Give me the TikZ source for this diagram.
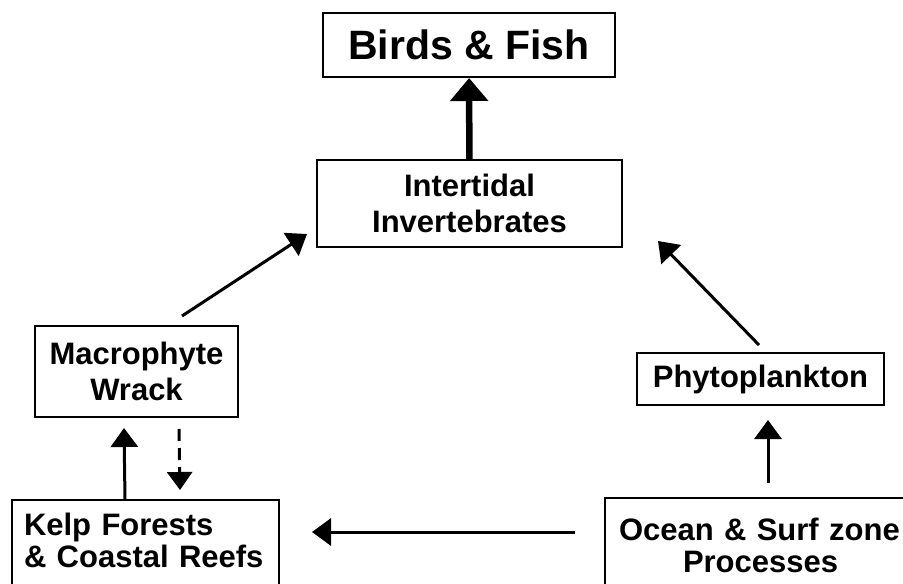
\documentclass[tikz,border=0pt]{standalone}
\usepackage{fontspec}
\setmainfont{Liberation Sans}
\usepackage{tikz}
\usetikzlibrary{arrows.meta, calc}

\begin{document}
\begin{tikzpicture}[x=1pt, y=-1pt,
    box/.style={draw=black, line width=2pt, inner sep=0pt, font=\bfseries\fontsize{31}{36}\selectfont, align=center},
    sidebox/.style={draw=black, line width=2pt, anchor=north west, inner ysep=13pt, text depth=80pt, font=\bfseries\fontsize{31}{32}\selectfont, align=left},
    arr/.style={line width=3pt, -{Triangle[width=27pt, length=19pt]}},
    bigarr/.style={line width=6.5pt, -{Triangle[width=37pt, length=23pt]}},
    dasharr/.style={line width=3pt, dash pattern=on 12pt off 7pt, -{Triangle[width=25pt, length=18pt]}}]
  \path[use as bounding box, clip] (0,0) rectangle (903,584);

  % ----- Boxes -----
  \node[box, minimum width=292pt, minimum height=64pt, font=\bfseries\fontsize{41}{46}\selectfont] (birds) at (469,45) {Birds \& Fish};
  \node[box, minimum width=305pt, minimum height=87pt] (inter) at (469.5,203.5) {Intertidal\\Invertebrates};
  \node[box, minimum width=203pt, minimum height=91pt] (macro) at (136.5,371.5) {Macrophyte\\Wrack};
  \node[box, minimum width=247pt, minimum height=52pt] (phyto) at (760.5,379) {Phytoplankton};
  \node[sidebox, inner xsep=12pt, text width=243pt] (kelp) at (11,499) {Kelp Forests\\\& Coastal Reefs};
  \node[sidebox, inner xsep=14pt, inner ysep=20pt, text width=292pt] (ocean) at (604,497) {Ocean \& Surf zone\\\hspace*{64pt}Processes};

  % ----- Arrows -----
  \draw[bigarr] (inter) -- (birds);
  \draw[arr] ($(macro.north)+(45.5,-9)$) -- ($(inter.south west)+(-9,-14)$);
  \draw[arr] ($(phyto.north)+(-1.5,-7)$) -- ($(inter.south east)+(35,-7)$);
  \draw[arr] ($(ocean.north west)+(164,-14)$) -- ($(phyto.south)+(7.5,14)$);
  \draw[arr] ($(ocean.north west)+(-29,35)$) -- ($(kelp.north east)+(32,33)$);
  \draw[arr] ($(kelp.north west)+(114,0)$) -- ($(macro.south west)+(90,10)$);
  \draw[dasharr] ($(macro.south west)+(145,11)$) -- ($(kelp.north west)+(169,-9)$);
\end{tikzpicture}
\end{document}
